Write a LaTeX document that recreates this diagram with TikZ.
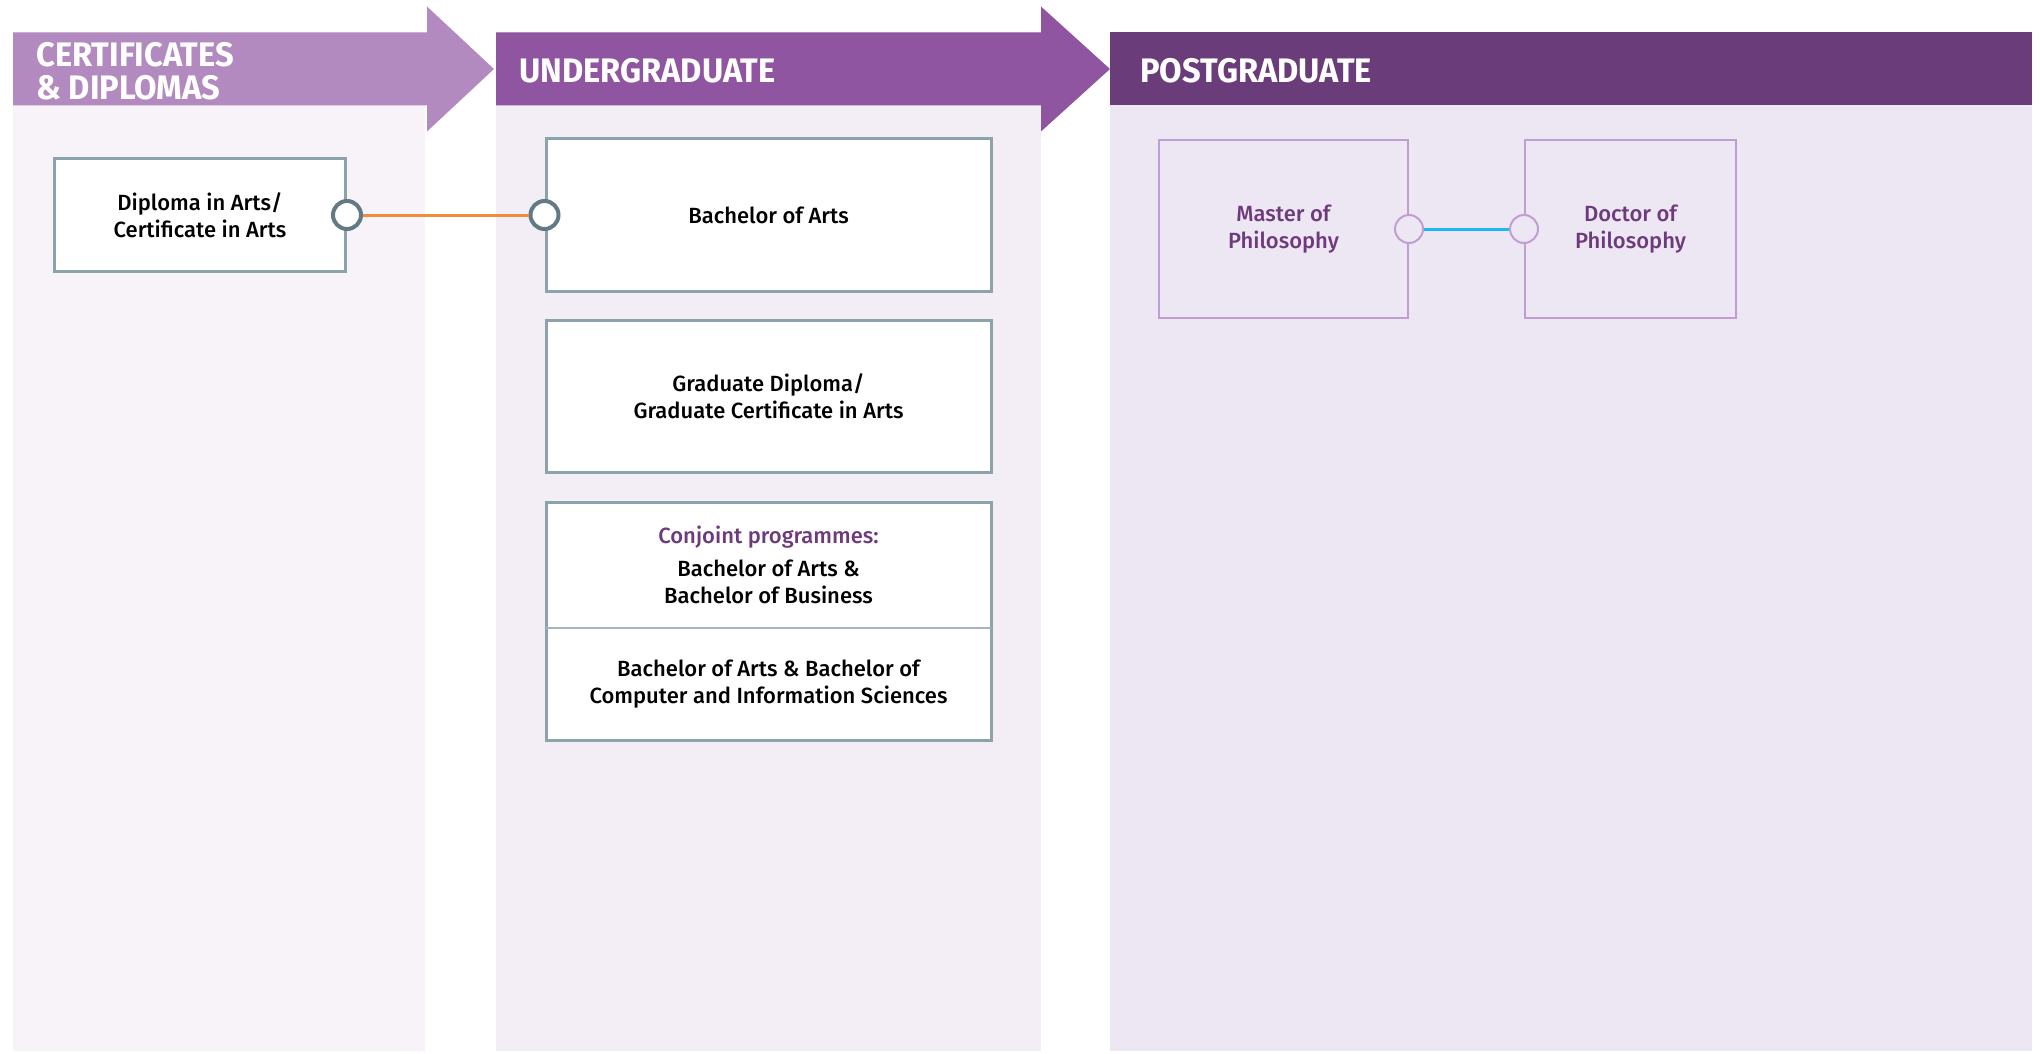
\documentclass[tikz,border=0pt]{standalone}
\usepackage{fontspec}
\setmainfont{Fira Sans}
\newfontfamily\boxfont{Fira Sans Medium}
\newfontfamily\headfont{Fira Sans}[FakeStretch=0.96]
\usetikzlibrary{positioning, shapes}
\definecolor{cert_head}{HTML}{B38AC0}
\definecolor{ug_head}{HTML}{8F55A1}
\definecolor{pg_head}{HTML}{6B3C7A}
\definecolor{cert_body}{HTML}{F8F3F9}
\definecolor{ug_body}{HTML}{F3EEF6}
\definecolor{pg_body}{HTML}{EDE7F3}
\definecolor{box_grey}{HTML}{8DA3AC}
\definecolor{joint_grey}{HTML}{627A84}
\definecolor{link_orange}{HTML}{F08D3A}
\definecolor{link_cyan}{HTML}{1DB8EC}
\definecolor{pg_border}{HTML}{C09ED2}
\definecolor{pg_text}{HTML}{6D3A7C}
\tikzset{
  progbox/.style={draw=box_grey, line width=1.5pt, fill=white, align=center, inner sep=0pt,
    font=\boxfont\fontsize{11}{13.5}\selectfont},
  conjpart/.style={progbox, draw=none, outer sep=0pt, minimum width=222.5pt},
  pgbox/.style={draw=pg_border, line width=1pt, align=center, inner sep=0pt, text=pg_text,
    font=\boxfont\fontsize{11}{13.5}\selectfont},
  joint/.style={circle, draw=joint_grey, line width=2pt, fill=white, minimum size=14pt, inner sep=0pt},
  pgjoint/.style={circle, draw=pg_border, line width=1pt, fill=pg_body, minimum size=14pt, inner sep=0pt},
  header/.style={anchor=west, text=white, align=left, inner sep=0pt,
    font=\headfont\bfseries\fontsize{17}{16.5}\selectfont}
}
\begin{document}
\begin{tikzpicture}[x=0.5pt,y=-0.5pt,line join=miter]
  \useasboundingbox (0,0) rectangle (2040,1054);

  % columns
  \fill[cert_body] (13,32) rectangle (425,1051);
  \fill[ug_body] (496,32) rectangle (1041,1051);
  \fill[pg_body] (1110,32) rectangle (2032,1051);

  % header bars
  \fill[cert_head] (13,32.5) -- (427,32.5) -- (427,6.5) -- (494,69)
    -- (427,131.5) -- (427,105.5) -- (13,105.5) -- cycle;
  \fill[ug_head] (496,32.5) -- (1041,32.5) -- (1041,6.5) -- (1110,69)
    -- (1041,131.5) -- (1041,105.5) -- (496,105.5) -- cycle;
  \fill[pg_head] (1110,32.5) rectangle (2032,105.5);

  \node[header] (cert_title) at (36,71) {CERTIFICATES\\\& DIPLOMAS};
  \node[header] (ug_title) at (519,71) {UNDERGRADUATE};
  \node[header] (pg_title) at (1140,71) {POSTGRADUATE};

  % programmes
  \node[progbox, minimum width=145.5pt, minimum height=56pt] (dipl) at (200,215)
    {Diploma in Arts/\\Certificate in Arts};
  \node[progbox, minimum width=222.5pt, minimum height=76pt] (ba) at (768.5,215)
    {Bachelor of Arts};
  \node[progbox, minimum width=222.5pt, minimum height=76pt] (gdip) at (768.5,396.5)
    {Graduate Diploma/\\Graduate Certificate in Arts};

  \node[conjpart, minimum height=63pt] (conjtop) at (768.5,565)
    {\textcolor{pg_text}{Conjoint programmes:}\\[3pt]Bachelor of Arts \&\\Bachelor of Business};
  \node[conjpart, minimum height=56pt, below=0pt of conjtop] (conjbot)
    {Bachelor of Arts \& Bachelor of\\Computer and Information Sciences};
  \draw[box_grey, line width=1.5pt] (conjtop.north west) rectangle (conjbot.south east);
  \draw[box_grey!80, line width=0.6pt] (conjtop.south west) -- (conjtop.south east);

  \node[pgbox, minimum width=124.5pt, minimum height=89pt] (mphil) at (1283.5,229)
    {Master of\\Philosophy};
  \node[pgbox, minimum width=105.5pt, minimum height=89pt] (phd) at (1630.5,229)
    {Doctor of\\Philosophy};

  % pathways
  \node[joint] (dipl_out) at (dipl.east) {};
  \node[joint] (ba_in) at (ba.west) {};
  \draw[link_orange, line width=1.5pt] (dipl_out) -- (ba_in);

  \node[pgjoint] (mphil_out) at (mphil.east) {};
  \node[pgjoint] (phd_in) at (phd.west) {};
  \draw[link_cyan, line width=1.5pt] (mphil_out) -- (phd_in);
\end{tikzpicture}
\end{document}
